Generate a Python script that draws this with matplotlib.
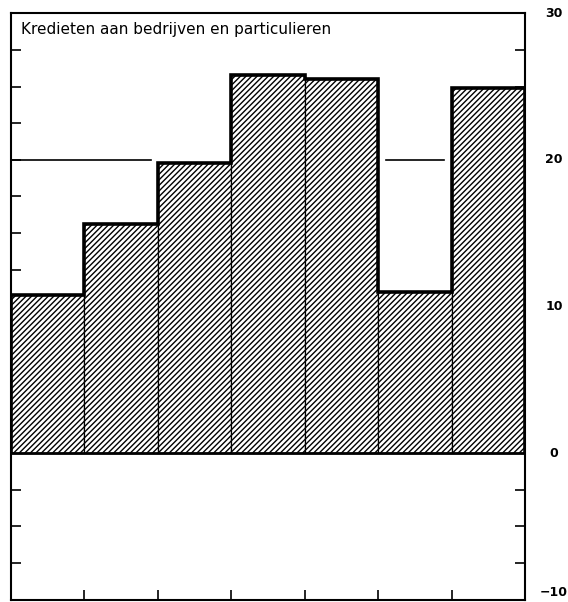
import numpy as np
import matplotlib
matplotlib.use("Agg")
import matplotlib.pyplot as plt

# Values (percent)
periods = np.arange(7)
credit_growth = [10.8, 15.6, 19.8, 25.8, 25.5, 11.0, 24.9]
reference_level = 20
# reference line is only drawn over these periods (first, last)
ref_segments = [(0, 1), (5, 5)]
y_ticks = [30, 20, 10, 0, -10]
title = "Kredieten aan bedrijven en particulieren"

plt.rcParams["hatch.linewidth"] = 1.0

fig = plt.figure(figsize=(5.68, 6.02), dpi=100)
ax = fig.add_axes([0.0194, 0.004, 0.905, 0.974])

edges = np.arange(len(periods) + 1)
ax.bar(periods + 0.5, credit_growth, width=1.0, color="white",
       edgecolor="black", linewidth=0.9, hatch="//////", zorder=2)
# thick stepped outline on top of the bars
ax.stairs(credit_growth, edges, color="black", linewidth=2.6, zorder=3)
ax.axhline(0, color="black", linewidth=2.0, zorder=4)

for a, b in ref_segments:
    lo = a + (0 if a == 0 else 0.1)
    hi = b + 0.9
    ax.plot([lo, hi], [reference_level, reference_level], color="black",
            linewidth=1.2, zorder=1)

ax.set_xlim(0, len(periods))
ax.set_ylim(-10, 30)
ax.set_xticks(edges[1:-1])
ax.set_xticklabels([])
ax.set_yticks(np.arange(-10, 30.1, 2.5))
ax.set_yticklabels([])
ax.tick_params(axis="both", direction="in", length=7, width=1.2,
               left=True, right=True, bottom=True, top=False)
for s in ax.spines.values():
    s.set_linewidth(1.5)

# value labels sit outside the frame on the right
for v in y_ticks:
    lab = str(v).replace("-", "\u2212")
    yv = v + 0.5 if v == -10 else v
    ax.text(1.056, (yv + 10) / 40, lab, transform=ax.transAxes,
            ha="center", va="center", fontsize=9, fontweight="bold",
            family="DejaVu Sans", clip_on=False)

ax.text(0.02, 0.985, title, transform=ax.transAxes, ha="left", va="top",
        fontsize=11, family="DejaVu Sans")

fig.savefig("out.png", dpi=100)
